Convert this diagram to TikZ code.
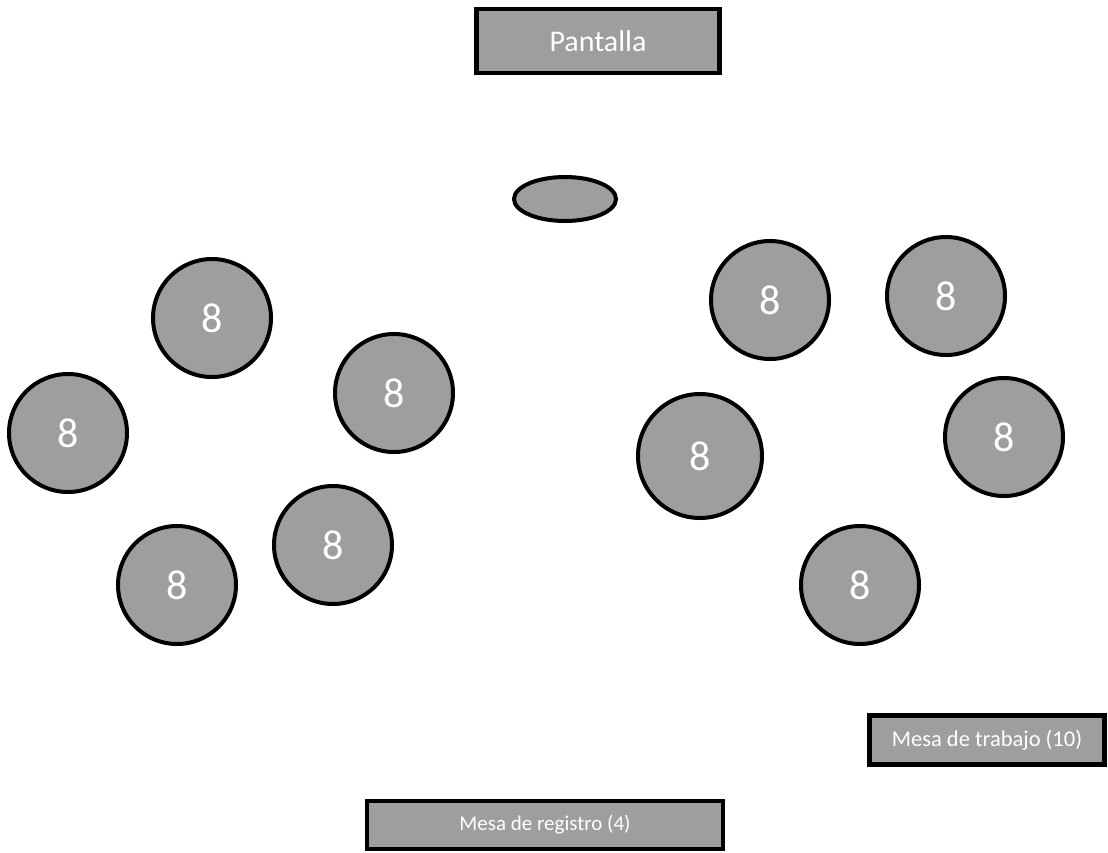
\documentclass[tikz,border=0pt]{standalone}
\usepackage{fontspec}
\setmainfont{Carlito}
\usepackage{tikz}
\usetikzlibrary{positioning,shapes.geometric}
\definecolor{tablegray}{RGB}{158,158,158}
\tikzset{
  round table/.style={
    circle,
    draw=black,
    fill=tablegray,
    line width=4pt,
    minimum size=118pt,
    inner sep=0pt,
    text=white,
    font=\fontsize{42}{42}\selectfont
  },
  label box/.style={
    rectangle,
    draw=black,
    fill=tablegray,
    line width=4.5pt,
    inner sep=0pt,
    text=white
  }
}

\begin{document}
\begin{tikzpicture}[x=1pt,y=-1pt]
  \useasboundingbox (0,0) rectangle (1108,852);

  % Screen and lectern
  \node[label box, minimum width=243pt, minimum height=64pt,
        font=\fontsize{30}{30}\selectfont] (pantalla) at (598,41) {Pantalla};
  \node[ellipse, draw=black, fill=tablegray, line width=4pt,
        minimum width=102pt, minimum height=44pt] (podio) at (565,199) {};

  % Left group of tables
  \node[round table] (mesaA) at (212,318) {8};
  \node[round table] (mesaB) at (394,393) {8};
  \node[round table] (mesaC) at (68,433) {8};
  \node[round table] (mesaD) at (333,545) {8};
  \node[round table] (mesaE) at (177,585) {8};

  % Right group of tables
  \node[round table] (mesaF) at (770,300) {8};
  \node[round table] (mesaG) at (946,296) {8};
  \node[round table, minimum size=124pt] (mesaH) at (700,456) {8};
  \node[round table] (mesaI) at (1004,437) {8};
  \node[round table] (mesaJ) at (860,585) {8};

  % Work and registration desks
  \node[label box, minimum width=235pt, minimum height=49pt,
        font=\fontsize{22.5}{22.5}\selectfont] (trabajo) at (987,740) {Mesa de trabajo (10)};
  \node[label box, minimum width=356pt, minimum height=48pt,
        font=\fontsize{21}{21}\selectfont] (registro) at (545,825) {Mesa de registro (4)};
\end{tikzpicture}
\end{document}
